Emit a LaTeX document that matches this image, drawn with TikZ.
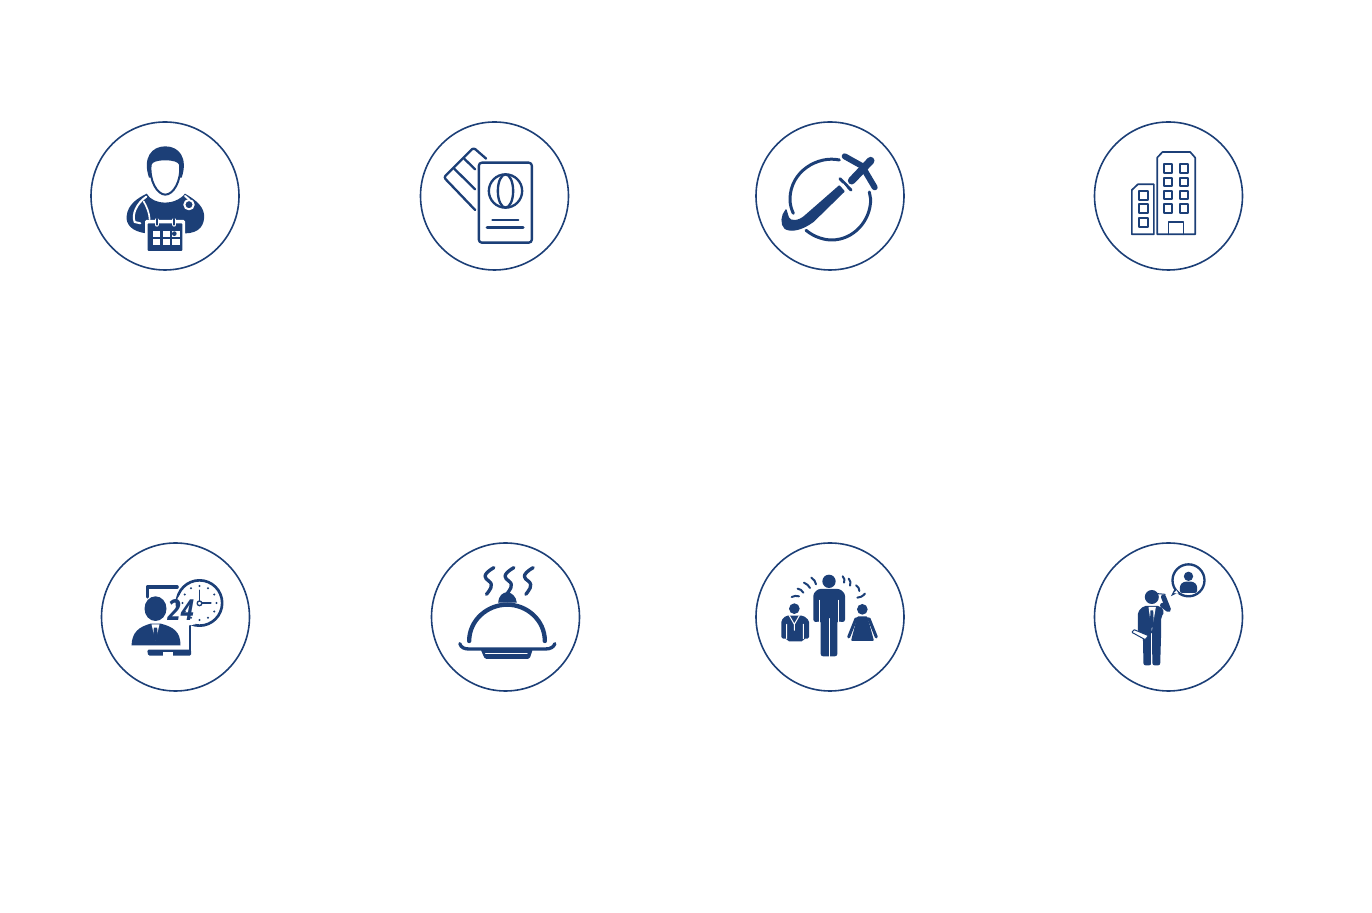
\documentclass[tikz,border=0pt]{standalone}
\usepackage{fontspec}
\newfontfamily\clockfont{Open Sans}
\definecolor{navyicon}{HTML}{1C3F77}
\tikzset{
  ring/.style={draw=navyicon,line width=0.8pt},
  iconat/.style={shift={(#1)},x=0.16667pt,y=-0.16667pt,shift={(-240,-240)}},
  ink/.style={draw=navyicon,line width=#1*0.16667pt,line cap=round,line join=round},
  cut/.style={draw=white,line width=#1*0.16667pt,line cap=round,line join=round},
}
\begin{document}
\begin{tikzpicture}[x=0.5pt,y=-0.5pt]
  \useasboundingbox (0,0) rectangle (1372,913);
  \coordinate (doctor) at (165,196);
  \coordinate (passport) at (494.5,196);
  \coordinate (flight) at (830,196);
  \coordinate (hotel) at (1168.5,196);
  \coordinate (support) at (175.5,617);
  \coordinate (meal) at (505.5,617);
  \coordinate (group) at (830,617);
  \coordinate (phone) at (1168.5,617);
  \foreach \c in {doctor,passport,flight,hotel,support,meal,group,phone}
    \draw[ring] (\c) circle (74);

  % doctor with calendar
  \begin{scope}[iconat=doctor]
    \fill[navyicon] (125,300) .. controls (128,265) and (160,245) .. (185,233) .. controls (195,252) and (220,260) .. (240,260) .. controls (260,260) and (285,252) .. (300,233) .. controls (320,245) and (354,265) .. (357,295) .. controls (360,325) and (345,352) .. (300,352) -- (185,352) .. controls (140,347) and (122,325) .. (125,300) -- cycle;
    \fill[navyicon] (192,185) .. controls (172,125) and (200,91) .. (241,91) .. controls (282,91) and (310,125) .. (290,185) -- cycle;
    \draw[ink=6,fill=white] (197,145) .. controls (200,135) and (215,130) .. (241,130) .. controls (265,130) and (282,135) .. (285,145) .. controls (290,195) and (265,236) .. (241,236) .. controls (217,236) and (192,195) .. (197,145) -- cycle;
    \draw[cut=6] (184,242) .. controls (155,262) and (140,295) .. (149,318) -- (166,322);
    \draw[cut=5] (176,256) .. controls (185,272) and (193,290) .. (194,310);
    \draw[cut=6] (300,240) -- (312,250);
    \draw[cut=6,fill=navyicon] (312,266) circle (14);
    \fill[white,rounded corners=0.7pt] (180,312) rectangle (300,412);
    \fill[navyicon,rounded corners=0.5pt] (188,322) rectangle (292,405);
    \foreach \x in {203,233,262}
      \foreach \y in {345,368}
        \fill[white] (\x,\y) rectangle +(23,18);
    \fill[navyicon] (268,353) circle (7);
    \draw[cut=12] (215,312) -- (215,326) (268,312) -- (268,326);
    \draw[ink=6] (215,308) -- (215,326) (268,308) -- (268,326);
  \end{scope}

  % passport and card
  \begin{scope}[iconat=passport]
    \draw[ink=7,rounded corners=1.2pt] (182,282) -- (88,184) -- (177,95) -- (215,128);
    \draw[ink=7] (119,158) -- (182,220) (149,128) -- (182,160);
    \draw[ink=7,fill=white,rounded corners=1.5pt] (193,140) rectangle (352,380);
    \draw[ink=7] (273,225) circle (50);
    \draw[ink=7] (273,225) ellipse (23 and 50);
    \draw[ink=5] (233,313) -- (312,313);
    \draw[ink=9] (218,336) -- (326,336);
  \end{scope}

  % plane round a globe
  \begin{scope}[iconat=flight]
    \draw[ink=9] (268,132) .. controls (205,118) and (120,165) .. (120,250) .. controls (120,265) and (124,280) .. (130,292);
    \draw[ink=9] (168,343) .. controls (195,365) and (225,372) .. (245,372) .. controls (310,372) and (362,315) .. (362,250) -- (358,228);
    \draw[ink=4,fill=navyicon] (108,282) .. controls (94,298) and (92,325) .. (105,337) .. controls (122,348) and (155,342) .. (190,316) -- (282,226) -- (268,210) -- (165,300) .. controls (145,318) and (120,318) .. (115,305) -- cycle;
    \draw[ink=23] (305,194) -- (362,134);
    \draw[ink=18] (284,121) -- (345,155);
    \draw[ink=18] (345,165) -- (374,214);
    \draw[ink=9] (270,188) -- (303,222);
    \draw[cut=3] (278,203) -- (290,218);
  \end{scope}

  % two buildings
  \begin{scope}[iconat=hotel]
    \draw[ink=5] (206,355) -- (206,125) -- (222,108) -- (305,108) -- (320,125) -- (320,355) -- cycle;
    \draw[ink=5] (130,355) -- (130,222) -- (148,205) -- (196,205) -- (196,355) -- cycle;
    \draw[ink=5] (240,355) -- (240,318) -- (285,318) -- (285,355);
    \foreach \y in {145,185,225,265}
      \draw[ink=6] (225,\y) rectangle +(25,25) (273,\y) rectangle +(25,25);
    \foreach \y in {225,265,305}
      \draw[ink=6] (150,\y) rectangle +(27,27);
  \end{scope}

  % 24 hour support
  \begin{scope}[iconat=support]
    \draw[ink=10] (155,180) -- (155,150) -- (245,150);
    \draw[ink=7] (284,265) -- (284,345);
    \fill[navyicon,rounded corners=0.7pt] (155,338) -- (287,338) -- (287,356) -- (158,356) -- cycle;
    \fill[white] (203,346) rectangle (232,356);
    \fill[navyicon] (180,215) ellipse (33 and 37);
    \fill[navyicon] (108,325) .. controls (110,285) and (130,270) .. (165,260) -- (196,260) .. controls (235,270) and (255,285) .. (255,325) -- cycle;
    \fill[white] (168,262) -- (192,262) -- (180,312) -- cycle;
    \fill[navyicon] (175,272) -- (185,272) -- (187,300) -- (180,312) -- (173,300) -- cycle;
    \draw[ink=8,fill=white] (312,198) circle (68);
    \fill[white] (246,185) -- (262,160) -- (300,262) -- (240,272) -- cycle;
    \foreach \a in {0,30,...,330}
      \fill[navyicon] (312,198) ++(\a:51) circle (3.5);
    \draw[ink=5] (312,160) -- (312,198) -- (346,198);
    \draw[ink=4,fill=white] (312,199) circle (7);
    \node[inner sep=0pt,text=navyicon,xscale=0.82] (hours) at (256,220) {\clockfont\bfseries\itshape\fontsize{14.5}{15}\selectfont 24};
  \end{scope}

  % covered dish
  \begin{scope}[iconat=meal]
    \foreach \x in {190,250,308}
      \draw[ink=10] (\x+15,92) .. controls (\x-25,115) and (\x-10,125) .. (\x,132) .. controls (\x+18,145) and (\x,162) .. (\x-7,172);
    \fill[navyicon] (218,197) .. controls (220,175) and (232,166) .. (245,166) .. controls (258,166) and (272,178) .. (274,197) -- cycle;
    \draw[ink=13] (131,312) .. controls (131,250) and (185,203) .. (245,203) .. controls (305,203) and (358,250) .. (358,312);
    \draw[ink=10] (103,320) .. controls (106,332) and (118,336) .. (130,336) -- (360,336) .. controls (375,336) and (385,330) .. (388,320);
    \fill[navyicon,rounded corners=0.8pt] (165,336) -- (322,336) -- (312,366) -- (178,366) -- cycle;
    \draw[cut=2] (180,350) -- (305,350);
  \end{scope}

  % man between two colleagues
  \begin{scope}[iconat=group]
    \fill[navyicon] (237,133) circle (20);
    \fill[navyicon,rounded corners=1.2pt] (190,255) -- (190,170) -- (204,156) -- (270,156) -- (285,170) -- (285,255) -- (268,255) -- (262,250) -- (262,358) -- (212,358) -- (212,250) -- (206,255) -- cycle;
    \draw[cut=2.5] (209,190) -- (209,258) (265,190) -- (265,258) (237,245) -- (237,360);
    \fill[navyicon] (133,215) circle (16);
    \fill[navyicon,rounded corners=0.8pt] (94,305) -- (94,250) -- (108,236) -- (160,236) -- (177,250) -- (177,305) -- (160,305) -- (160,313) -- (112,313) -- (112,305) -- cycle;
    \draw[cut=3] (118,236) -- (133,262) -- (148,236) (133,262) -- (133,280) (110,262) -- (110,305) (160,262) -- (160,305);
    \fill[navyicon] (337,217) circle (16);
    \fill[navyicon,rounded corners=0.5pt] (322,238) -- (352,238) -- (372,312) -- (303,312) -- cycle;
    \draw[ink=9] (318,245) -- (296,300) (357,245) -- (379,300);
    \draw[ink=6] (125,180) .. controls (132,176) and (140,176) .. (147,178);
    \draw[ink=6] (143,155) .. controls (150,156) and (156,160) .. (160,167);
    \draw[ink=6] (162,137) .. controls (170,140) and (176,146) .. (180,153);
    \draw[ink=6] (184,122) .. controls (192,127) and (197,134) .. (198,142);
    \draw[ink=6] (278,118) .. controls (284,124) and (285,130) .. (282,137);
    \draw[ink=6] (296,125) .. controls (302,131) and (303,138) .. (300,146);
    \draw[ink=6] (318,145) .. controls (325,149) and (328,155) .. (328,162);
    \draw[ink=6] (322,182) .. controls (330,182) and (338,178) .. (345,170);
  \end{scope}

  % man on the telephone
  \begin{scope}[iconat=phone]
    \draw[ink=7,fill=white] (300,130) circle (48);
    \fill[navyicon] (266,168) -- (247,178) -- (258,156) -- cycle;
    \fill[white] (264,160) -- (256,168) -- (270,170) -- cycle;
    \fill[navyicon] (300,118) circle (14);
    \fill[navyicon,rounded corners=1.2pt] (274,168) -- (274,145) -- (285,134) -- (315,134) -- (326,145) -- (326,168) -- cycle;
    \fill[navyicon] (190,180) circle (21);
    \draw[ink=3] (208,170) -- (230,172);
    \fill[navyicon,rounded corners=1pt] (148,275) -- (148,225) -- (165,207) -- (215,207) -- (228,225) -- (218,240) -- (218,285) -- (215,385) -- (192,385) -- (190,300) -- (188,385) -- (165,385) -- (163,290) -- (148,285) -- cycle;
    \draw[ink=15] (222,205) -- (240,218) -- (225,180);
    \fill[white] (180,210) -- (202,210) -- (190,282) -- cycle;
    \fill[navyicon] (186,220) -- (194,220) -- (196,262) -- (190,276) -- (184,262) -- cycle;
    \draw[ink=3,fill=white,rounded corners=0.3pt] (130,286) -- (137,278) -- (180,296) -- (170,308) -- cycle;
    \draw[cut=3] (190,290) -- (190,385);
  \end{scope}
\end{tikzpicture}
\end{document}
